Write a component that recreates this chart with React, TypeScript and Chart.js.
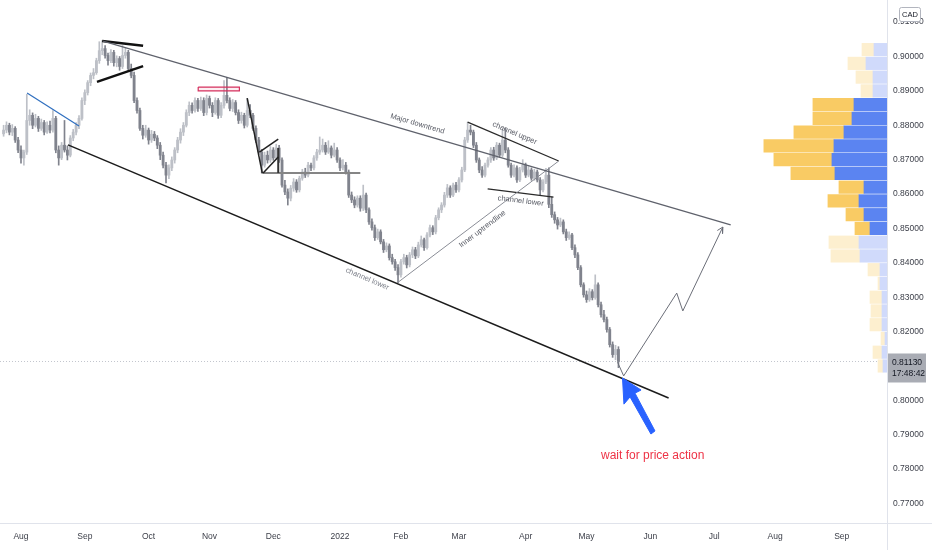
import React, { useEffect, useRef } from "react";
import Chart from "chart.js/auto";

// daily bars, first bar is 2021-07-23, weekdays only
const firstBarDate = "2021-07-23";

// [open, high, low, close]
const ohlc: [number, number, number, number][] = [
  [0.8775, 0.8800, 0.8768, 0.8786], [0.8786, 0.8810, 0.8778, 0.8800], [0.8800, 0.8806, 0.8772, 0.8780],
  [0.8780, 0.8802, 0.8770, 0.8791], [0.8791, 0.8796, 0.8750, 0.8757], [0.8757, 0.8765, 0.8720, 0.8728],
  [0.8728, 0.8740, 0.8690, 0.8705], [0.8705, 0.8728, 0.8684, 0.8722], [0.8722, 0.8890, 0.8715, 0.8814],
  [0.8814, 0.8845, 0.8800, 0.8829], [0.8829, 0.8836, 0.8790, 0.8800], [0.8800, 0.8832, 0.8795, 0.8820],
  [0.8820, 0.8826, 0.8782, 0.8791], [0.8791, 0.8818, 0.8785, 0.8808], [0.8808, 0.8814, 0.8772, 0.8780],
  [0.8780, 0.8810, 0.8776, 0.8800], [0.8800, 0.8812, 0.8778, 0.8786], [0.8786, 0.8843, 0.8780, 0.8820],
  [0.8820, 0.8826, 0.8720, 0.8728], [0.8728, 0.8740, 0.8684, 0.8705], [0.8705, 0.8750, 0.8700, 0.8742],
  [0.8742, 0.8814, 0.8722, 0.8728], [0.8728, 0.8740, 0.8699, 0.8713], [0.8713, 0.8770, 0.8708, 0.8763],
  [0.8763, 0.8788, 0.8755, 0.8780], [0.8780, 0.8808, 0.8772, 0.8800], [0.8800, 0.8828, 0.8790, 0.8820],
  [0.8820, 0.8880, 0.8815, 0.8872], [0.8872, 0.8903, 0.8860, 0.8895], [0.8895, 0.8930, 0.8888, 0.8924],
  [0.8924, 0.8952, 0.8915, 0.8945], [0.8945, 0.8965, 0.8935, 0.8953], [0.8953, 0.8995, 0.8948, 0.8988],
  [0.8988, 0.9043, 0.8980, 0.9017], [0.9017, 0.9046, 0.9005, 0.9023], [0.9023, 0.9032, 0.8995, 0.9003],
  [0.9003, 0.9010, 0.8975, 0.8988], [0.8988, 0.9020, 0.8982, 0.9012], [0.9012, 0.9018, 0.8972, 0.8982],
  [0.8982, 0.9002, 0.8970, 0.8994], [0.8994, 0.9000, 0.8960, 0.8971], [0.8971, 0.9032, 0.8965, 0.9003],
  [0.9003, 0.9025, 0.8995, 0.9012], [0.9012, 0.9018, 0.8958, 0.8965], [0.8965, 0.8978, 0.8938, 0.8945],
  [0.8945, 0.8955, 0.8866, 0.8872], [0.8872, 0.8880, 0.8835, 0.8843], [0.8843, 0.8850, 0.8785, 0.8791],
  [0.8791, 0.8800, 0.8760, 0.8771], [0.8771, 0.8800, 0.8765, 0.8786], [0.8786, 0.8792, 0.8745, 0.8757],
  [0.8757, 0.8785, 0.8750, 0.8774], [0.8774, 0.8782, 0.8755, 0.8763], [0.8763, 0.8770, 0.8732, 0.8742],
  [0.8742, 0.8750, 0.8700, 0.8713], [0.8713, 0.8722, 0.8676, 0.8684], [0.8684, 0.8692, 0.8632, 0.8655],
  [0.8655, 0.8685, 0.8645, 0.8676], [0.8676, 0.8708, 0.8668, 0.8699], [0.8699, 0.8735, 0.8690, 0.8728],
  [0.8728, 0.8765, 0.8720, 0.8757], [0.8757, 0.8790, 0.8748, 0.8780], [0.8780, 0.8808, 0.8770, 0.8800],
  [0.8800, 0.8845, 0.8795, 0.8837], [0.8837, 0.8868, 0.8828, 0.8858], [0.8858, 0.8865, 0.8835, 0.8843],
  [0.8843, 0.8880, 0.8838, 0.8872], [0.8872, 0.8878, 0.8840, 0.8849], [0.8849, 0.8882, 0.8843, 0.8872],
  [0.8872, 0.8880, 0.8828, 0.8837], [0.8837, 0.8888, 0.8830, 0.8878], [0.8878, 0.8885, 0.8850, 0.8858],
  [0.8858, 0.8866, 0.8825, 0.8837], [0.8837, 0.8880, 0.8832, 0.8872], [0.8872, 0.8878, 0.8820, 0.8829],
  [0.8829, 0.8866, 0.8822, 0.8858], [0.8858, 0.8930, 0.8850, 0.8887], [0.8887, 0.8939, 0.8865, 0.8872],
  [0.8872, 0.8880, 0.8842, 0.8849], [0.8849, 0.8875, 0.8840, 0.8866], [0.8866, 0.8872, 0.8830, 0.8837],
  [0.8837, 0.8845, 0.8805, 0.8814], [0.8814, 0.8838, 0.8806, 0.8829], [0.8829, 0.8835, 0.8792, 0.8800],
  [0.8800, 0.8878, 0.8795, 0.8843], [0.8843, 0.8860, 0.8822, 0.8829], [0.8829, 0.8835, 0.8785, 0.8791],
  [0.8791, 0.8798, 0.8750, 0.8757], [0.8757, 0.8765, 0.8715, 0.8722], [0.8722, 0.8730, 0.8661, 0.8684],
  [0.8684, 0.8722, 0.8678, 0.8713], [0.8713, 0.8725, 0.8690, 0.8699], [0.8699, 0.8738, 0.8692, 0.8728],
  [0.8728, 0.8735, 0.8698, 0.8705], [0.8705, 0.8745, 0.8700, 0.8734], [0.8734, 0.8742, 0.8692, 0.8699],
  [0.8699, 0.8705, 0.8620, 0.8626], [0.8626, 0.8640, 0.8598, 0.8606], [0.8606, 0.8615, 0.8568, 0.8588],
  [0.8588, 0.8625, 0.8580, 0.8617], [0.8617, 0.8645, 0.8608, 0.8635], [0.8635, 0.8642, 0.8605, 0.8612],
  [0.8612, 0.8652, 0.8606, 0.8646], [0.8646, 0.8672, 0.8640, 0.8664], [0.8664, 0.8675, 0.8648, 0.8655],
  [0.8655, 0.8692, 0.8650, 0.8684], [0.8684, 0.8690, 0.8668, 0.8676], [0.8676, 0.8712, 0.8670, 0.8705],
  [0.8705, 0.8730, 0.8698, 0.8722], [0.8722, 0.8766, 0.8715, 0.8728], [0.8728, 0.8760, 0.8722, 0.8742],
  [0.8742, 0.8750, 0.8715, 0.8722], [0.8722, 0.8755, 0.8718, 0.8734], [0.8734, 0.8740, 0.8705, 0.8713],
  [0.8713, 0.8748, 0.8708, 0.8728], [0.8728, 0.8735, 0.8692, 0.8699], [0.8699, 0.8705, 0.8668, 0.8676],
  [0.8676, 0.8700, 0.8670, 0.8684], [0.8684, 0.8692, 0.8658, 0.8664], [0.8664, 0.8670, 0.8590, 0.8597],
  [0.8597, 0.8606, 0.8575, 0.8583], [0.8583, 0.8592, 0.8560, 0.8568], [0.8568, 0.8595, 0.8562, 0.8588],
  [0.8588, 0.8595, 0.8550, 0.8559], [0.8559, 0.8626, 0.8552, 0.8597], [0.8597, 0.8603, 0.8546, 0.8554],
  [0.8554, 0.8560, 0.8512, 0.8519], [0.8519, 0.8528, 0.8495, 0.8502], [0.8502, 0.8510, 0.8465, 0.8473],
  [0.8473, 0.8498, 0.8468, 0.8490], [0.8490, 0.8496, 0.8455, 0.8461], [0.8461, 0.8468, 0.8430, 0.8438],
  [0.8438, 0.8458, 0.8432, 0.8449], [0.8449, 0.8455, 0.8408, 0.8415], [0.8415, 0.8425, 0.8396, 0.8403],
  [0.8403, 0.8410, 0.8378, 0.8386], [0.8386, 0.8395, 0.8342, 0.8365], [0.8365, 0.8410, 0.8358, 0.8403],
  [0.8403, 0.8425, 0.8396, 0.8415], [0.8415, 0.8422, 0.8385, 0.8394], [0.8394, 0.8430, 0.8388, 0.8423],
  [0.8423, 0.8446, 0.8415, 0.8438], [0.8438, 0.8445, 0.8412, 0.8420], [0.8420, 0.8460, 0.8415, 0.8452],
  [0.8452, 0.8478, 0.8446, 0.8467], [0.8467, 0.8472, 0.8436, 0.8444], [0.8444, 0.8488, 0.8440, 0.8481],
  [0.8481, 0.8510, 0.8475, 0.8502], [0.8502, 0.8508, 0.8482, 0.8490], [0.8490, 0.8538, 0.8484, 0.8531],
  [0.8531, 0.8560, 0.8525, 0.8554], [0.8554, 0.8575, 0.8546, 0.8568], [0.8568, 0.8605, 0.8562, 0.8597],
  [0.8597, 0.8628, 0.8590, 0.8618], [0.8618, 0.8624, 0.8590, 0.8597], [0.8597, 0.8632, 0.8592, 0.8626],
  [0.8626, 0.8634, 0.8605, 0.8612], [0.8612, 0.8648, 0.8606, 0.8641], [0.8641, 0.8678, 0.8635, 0.8670],
  [0.8670, 0.8765, 0.8665, 0.8757], [0.8757, 0.8809, 0.8750, 0.8786], [0.8786, 0.8800, 0.8772, 0.8780],
  [0.8780, 0.8786, 0.8735, 0.8742], [0.8742, 0.8750, 0.8692, 0.8699], [0.8699, 0.8705, 0.8662, 0.8670],
  [0.8670, 0.8680, 0.8648, 0.8655], [0.8655, 0.8690, 0.8650, 0.8684], [0.8684, 0.8706, 0.8678, 0.8699],
  [0.8699, 0.8735, 0.8692, 0.8728], [0.8728, 0.8736, 0.8698, 0.8705], [0.8705, 0.8750, 0.8700, 0.8742],
  [0.8742, 0.8748, 0.8706, 0.8713], [0.8713, 0.8786, 0.8708, 0.8757], [0.8757, 0.8791, 0.8720, 0.8728],
  [0.8728, 0.8735, 0.8678, 0.8684], [0.8684, 0.8690, 0.8648, 0.8655], [0.8655, 0.8685, 0.8650, 0.8676],
  [0.8676, 0.8682, 0.8634, 0.8641], [0.8641, 0.8678, 0.8636, 0.8670], [0.8670, 0.8700, 0.8664, 0.8684],
  [0.8684, 0.8690, 0.8648, 0.8655], [0.8655, 0.8680, 0.8650, 0.8670], [0.8670, 0.8676, 0.8640, 0.8646],
  [0.8646, 0.8672, 0.8640, 0.8664], [0.8664, 0.8670, 0.8635, 0.8641], [0.8641, 0.8648, 0.8597, 0.8612],
  [0.8612, 0.8642, 0.8606, 0.8635], [0.8635, 0.8675, 0.8630, 0.8655], [0.8655, 0.8676, 0.8560, 0.8570],
  [0.8570, 0.8592, 0.8532, 0.8540], [0.8540, 0.8548, 0.8515, 0.8525], [0.8525, 0.8532, 0.8498, 0.8510],
  [0.8510, 0.8530, 0.8505, 0.8519], [0.8519, 0.8525, 0.8484, 0.8490], [0.8490, 0.8498, 0.8465, 0.8473],
  [0.8473, 0.8490, 0.8468, 0.8481], [0.8481, 0.8486, 0.8438, 0.8444], [0.8444, 0.8452, 0.8415, 0.8423],
  [0.8423, 0.8430, 0.8380, 0.8386], [0.8386, 0.8392, 0.8330, 0.8336], [0.8336, 0.8342, 0.8300, 0.8307],
  [0.8307, 0.8318, 0.8285, 0.8293], [0.8293, 0.8325, 0.8288, 0.8316], [0.8316, 0.8322, 0.8292, 0.8299],
  [0.8299, 0.8365, 0.8294, 0.8336], [0.8336, 0.8342, 0.8272, 0.8278], [0.8278, 0.8286, 0.8242, 0.8249],
  [0.8249, 0.8262, 0.8228, 0.8235], [0.8235, 0.8242, 0.8198, 0.8206], [0.8206, 0.8212, 0.8155, 0.8162],
  [0.8162, 0.8170, 0.8125, 0.8133], [0.8133, 0.8160, 0.8118, 0.8148], [0.8148, 0.8156, 0.8095, 0.8113],
];

const monthLabels = ["Aug", "Sep", "Oct", "Nov", "Dec", "2022", "Feb", "Mar", "Apr", "May", "Jun", "Jul", "Aug", "Sep"];
const monthStarts = [
  "2021-08-01", "2021-09-01", "2021-10-01", "2021-11-01", "2021-12-01", "2022-01-01", "2022-02-01",
  "2022-03-01", "2022-04-01", "2022-05-01", "2022-06-01", "2022-07-01", "2022-08-01", "2022-09-01",
];
const priceTicks = [0.77, 0.78, 0.79, 0.8, 0.81, 0.82, 0.83, 0.84, 0.85, 0.86, 0.87, 0.88, 0.89, 0.9, 0.91];

// visible range profile, 0.004 rows (row centres)
const profileRows = [
  0.810, 0.814, 0.818, 0.822, 0.826, 0.830, 0.834, 0.838, 0.842, 0.846, 0.850, 0.854,
  0.858, 0.862, 0.866, 0.870, 0.874, 0.878, 0.882, 0.886, 0.890, 0.894, 0.898, 0.902,
];
const upVolume = [4, 5, 2, 5, 5, 5, 7, 7, 27, 28, 17, 23, 28, 23, 52, 55, 53, 43, 35, 33, 14, 14, 21, 13];
const downVolume = [5, 9, 4, 12, 11, 12, 2, 12, 29, 30, 15, 18, 31, 25, 44, 58, 70, 50, 39, 41, 12, 17, 18, 12];
const valueAreaLow = 0.848;
const valueAreaHigh = 0.888;

// drawings, in [bar index, price]
const majorDowntrend = [[34.3, 0.9045], [250.7, 0.851]];
const channelLowerMain = [[22.2, 0.8743], [229.3, 0.8007]];
const augustTrend = [[8.1, 0.8894], [26.0, 0.8798]];
const septTop = [[34.0, 0.9045], [48.1, 0.9031]];
const septSupport = [[32.2, 0.8926], [48.1, 0.8972]];
const novBox = [[67.1, 0.8911], [81.3, 0.8911], [81.3, 0.89], [67.1, 0.89], [67.1, 0.8911]];
const novDrop = [[84.0, 0.8879], [89.2, 0.8661]];
const flagUpper = [[88.2, 0.8722], [94.7, 0.876]];
const flagLower = [[89.5, 0.8661], [94.7, 0.8708]];
const flagSide = [[94.7, 0.8734], [94.7, 0.8661]];
const decSupport = [[89.2, 0.8661], [123.0, 0.8661]];
const innerUptrend = [[136.1, 0.8344], [191.4, 0.8696]];
const channelUpper = [[160.0, 0.8809], [191.4, 0.8696]];
const channelLowerSmall = [[166.9, 0.8615], [189.6, 0.8591]];
const projection = [[211.7, 0.8111], [213.8, 0.8071], [232.1, 0.8312], [234.2, 0.826], [248.0, 0.8504]];
const projectionHead = [[246.1, 0.8494], [248.0, 0.8504], [247.9, 0.8485]];
const blueArrow = [
  [213.4, 0.8065], [219.8, 0.803], [217.7, 0.8021], [224.6, 0.7911],
  [223.2, 0.7902], [216.0, 0.801], [213.9, 0.7989], [213.4, 0.8065],
];

const labels = [
  { text: "Major downtrend", at: [142.7, 0.8804], angle: 16.4, kind: "trend" },
  { text: "channel lower", at: [125.4, 0.8353], angle: 22.9, kind: "light" },
  { text: "Inner uptrendline", at: [165.1, 0.8498], angle: -37, kind: "trend" },
  { text: "channel upper", at: [176.2, 0.8777], angle: 23, kind: "trend" },
  { text: "channel lower", at: [178.3, 0.858], angle: 7, kind: "trend" },
  { text: "wait for price action", at: [223.8, 0.7838], angle: 0, kind: "note" },
];
const countdown = "17:48:42";
const currency = "CAD";

const X_MIN = -1.24;
const X_MAX = 304.6;
const Y_MIN = 0.76433;
const Y_MAX = 0.91643;
const AXIS_FONT = '"Liberation Sans", Arial, sans-serif';

function barIndex(date: string): number {
  const day = 86400000;
  const base = Date.parse(firstBarDate + "T00:00:00Z");
  let t = Date.parse(date + "T00:00:00Z");
  while ([0, 6].includes(new Date(t).getUTCDay())) t += day;
  let n = 0;
  for (let d = base; d < t; d += day) {
    const wd = new Date(d).getUTCDay();
    if (wd !== 0 && wd !== 6) n++;
  }
  return n;
}

const App: React.FC = () => {
  const canvasRef = useRef<HTMLCanvasElement | null>(null);
  const chartRef = useRef<Chart | null>(null);

  useEffect(() => {
    document.body.style.margin = "0";
    if (!canvasRef.current) return;
    if (chartRef.current) chartRef.current.destroy();
    const ctx = canvasRef.current.getContext("2d");
    if (!ctx) return;

    const upColor = "#bdc0c7";
    const downColor = "#80838d";
    const isUp = ohlc.map(([o, , , c]) => c >= o);
    const candleColors = isUp.map((u) => (u ? upColor : downColor));
    const lastClose = ohlc[ohlc.length - 1][3];
    const monthTicks = monthStarts.map(barIndex);

    const inValueArea = (p: number) => p > valueAreaLow && p < valueAreaHigh;

    const line = (pts: number[][], color: string, width: number, extra: any = {}) => ({
      type: "line" as const,
      data: pts.map(([x, y]) => ({ x, y })),
      borderColor: color,
      borderWidth: width,
      pointRadius: 0,
      tension: 0,
      fill: false,
      order: 1,
      xAxisID: "x",
      yAxisID: "y",
      ...extra,
    });

    const datasets: any[] = [
      line(blueArrow, "#2962ff", 1, { fill: "shape", backgroundColor: "#2962ff", order: 0 }),
      line(majorDowntrend, "#5f626c", 1.3),
      line(channelLowerMain, "#1c1c1c", 1.5),
      line(augustTrend, "#2f6fbf", 1.2),
      line(septTop, "#111111", 2.5),
      line(septSupport, "#111111", 2.5),
      line(novBox, "#d5315f", 1.2, { fill: "shape", backgroundColor: "rgba(213,49,95,0.08)" }),
      line(novDrop, "#222222", 1.5),
      line(flagUpper, "#222222", 1.5),
      line(flagLower, "#222222", 1.5),
      line(flagSide, "#333333", 2),
      line(decSupport, "#858585", 2),
      line(innerUptrend, "#8a8d96", 1),
      line(channelUpper, "#2a2a2a", 1.3),
      line(channelLowerSmall, "#2a2a2a", 1.3),
      line(projection, "#6b6e78", 1),
      line(projectionHead, "#6b6e78", 1),
      line([[X_MIN, lastClose], [X_MAX, lastClose]], "#c3c6ce", 1, { borderDash: [1, 2], order: 9 }),
      {
        type: "bar",
        data: ohlc.map(([o, , , c], i) => ({ x: i, y: [o, c] })),
        backgroundColor: candleColors,
        barThickness: 2.2,
        minBarLength: 1,
        grouped: false,
        order: 4,
        xAxisID: "x",
        yAxisID: "y",
      },
      {
        type: "bar",
        data: ohlc.map(([, h, l], i) => ({ x: i, y: [l, h] })),
        backgroundColor: candleColors,
        barThickness: 1,
        grouped: false,
        order: 5,
        xAxisID: "x",
        yAxisID: "y",
      },
      {
        type: "bar",
        indexAxis: "y",
        data: profileRows.map((p, i) => ({ y: p, x: [0, upVolume[i]] })),
        backgroundColor: profileRows.map((p) => (inValueArea(p) ? "#5b84f1" : "#d0dafb")),
        barThickness: 12.5,
        grouped: false,
        order: 6,
        xAxisID: "xv",
        yAxisID: "y",
      },
      {
        type: "bar",
        indexAxis: "y",
        data: profileRows.map((p, i) => ({ y: p, x: [upVolume[i], upVolume[i] + downVolume[i]] })),
        backgroundColor: profileRows.map((p) => (inValueArea(p) ? "#f9cb64" : "#fdefcf")),
        barThickness: 12.5,
        grouped: false,
        order: 6,
        xAxisID: "xv",
        yAxisID: "y",
      },
    ];

    const textStyle: Record<string, { font: string; color: string }> = {
      trend: { font: '7.5px "Liberation Sans", Arial, sans-serif', color: "#555862" },
      light: { font: '7.5px "Liberation Sans", Arial, sans-serif', color: "#7d808a" },
      note: { font: '12px "Liberation Sans", Arial, sans-serif', color: "#ee3346" },
    };

    const overlay = {
      id: "overlay",
      afterDraw(chart: any) {
        const c = chart.ctx as CanvasRenderingContext2D;
        const { x, y } = chart.scales;
        const area = chart.chartArea;
        c.save();
        // pane separators
        c.strokeStyle = "#e0e3eb";
        c.lineWidth = 1;
        c.beginPath();
        c.moveTo(Math.round(area.right) + 0.5, 0);
        c.lineTo(Math.round(area.right) + 0.5, chart.height);
        c.moveTo(0, Math.round(area.bottom) + 0.5);
        c.lineTo(chart.width, Math.round(area.bottom) + 0.5);
        c.stroke();

        // drawing texts
        c.textAlign = "center";
        c.textBaseline = "middle";
        for (const l of labels) {
          const st = textStyle[l.kind];
          c.save();
          c.translate(x.getPixelForValue(l.at[0]), y.getPixelForValue(l.at[1]));
          c.rotate((l.angle * Math.PI) / 180);
          c.font = st.font;
          c.fillStyle = st.color;
          c.fillText(l.text, 0, 0);
          c.restore();
        }

        // last price tag
        const py = y.getPixelForValue(lastClose);
        const left = Math.round(area.right) + 1;
        c.fillStyle = "#a9acb4";
        c.fillRect(left, py - 8, 38, 29);
        c.fillStyle = "#131722";
        c.textAlign = "left";
        c.font = "8.5px " + AXIS_FONT;
        c.fillText(lastClose.toFixed(5), left + 4, py + 1);
        c.fillText(countdown, left + 4, py + 12);

        // currency badge
        c.fillStyle = "#ffffff";
        c.strokeStyle = "#b2b5be";
        c.beginPath();
        c.roundRect(899.5, 7.5, 21, 14, 2);
        c.fill();
        c.stroke();
        c.fillStyle = "#131722";
        c.textAlign = "center";
        c.font = '7.5px "Liberation Sans", Arial, sans-serif';
        c.fillText(currency, 910, 15);
        c.restore();
      },
    };

    chartRef.current = new Chart(ctx, {
      type: "bar",
      data: { datasets },
      options: {
        animation: false,
        responsive: false,
        maintainAspectRatio: false,
        events: [],
        layout: { padding: 0 },
        plugins: { legend: { display: false }, tooltip: { enabled: false } },
        scales: {
          x: {
            type: "linear",
            position: "bottom",
            min: X_MIN,
            max: X_MAX,
            offset: false,
            grid: { display: false, drawTicks: false, offset: false },
            border: { display: false },
            afterBuildTicks: (s: any) => {
              s.ticks = monthTicks.map((v) => ({ value: v }));
            },
            afterFit: (s: any) => {
              s.height = 27;
              s.paddingLeft = 0;
              s.paddingRight = 0;
            },
            ticks: {
              autoSkip: false,
              maxRotation: 0,
              padding: 9,
              color: "#3b3e48",
              font: { family: AXIS_FONT, size: 8.5 },
              callback: (_v: any, i: number) => monthLabels[i],
            },
          },
          y: {
            type: "linear",
            position: "right",
            min: Y_MIN,
            max: Y_MAX,
            offset: false,
            beginAtZero: false,
            grid: { display: false, drawTicks: false, offset: false },
            border: { display: false },
            afterBuildTicks: (s: any) => {
              s.ticks = priceTicks.map((v) => ({ value: v }));
            },
            afterFit: (s: any) => {
              s.width = 45;
              s.paddingTop = 0;
              s.paddingBottom = 0;
            },
            ticks: {
              padding: 6,
              color: "#3b3e48",
              font: { family: AXIS_FONT, size: 8.5 },
              callback: (v: any) => Number(v).toFixed(5),
            },
          },
          xv: {
            type: "linear",
            display: false,
            reverse: true,
            min: 0,
            max: 886,
            offset: false,
            grid: { display: false },
          },
        },
      } as any,
      plugins: [overlay],
    });

    return () => {
      if (chartRef.current) {
        chartRef.current.destroy();
        chartRef.current = null;
      }
    };
  }, []);

  return (
    <div style={{ width: 932, height: 550, background: "#ffffff" }}>
      <canvas ref={canvasRef} width={932} height={550} />
    </div>
  );
};

export default App;
